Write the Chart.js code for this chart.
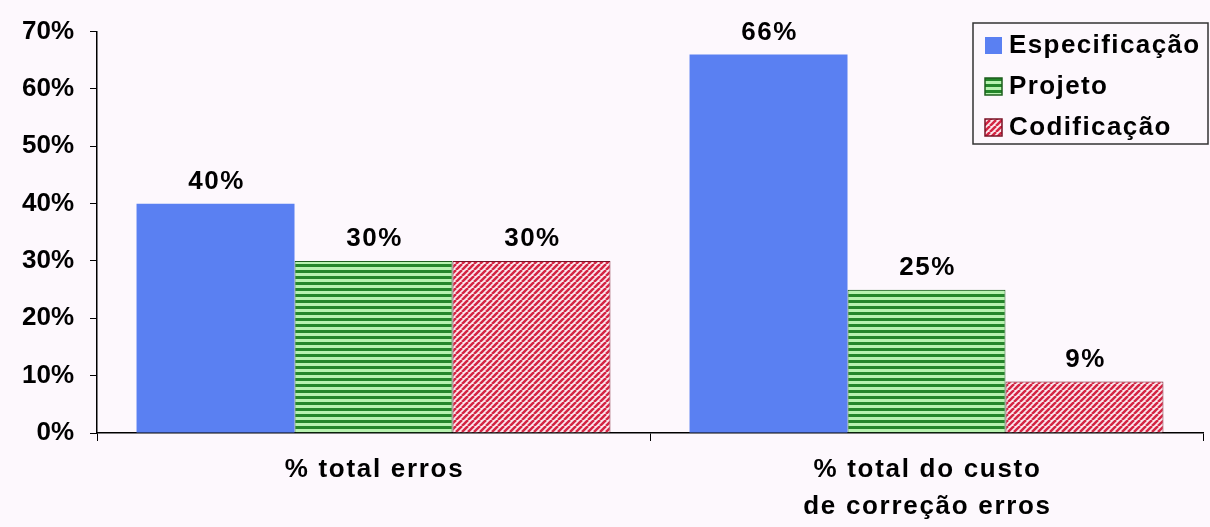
<!DOCTYPE html>
<html>
<head>
<meta charset="utf-8">
<script src="https://cdn.jsdelivr.net/npm/chart.js@4/dist/chart.umd.min.js"></script>
<style>
  html, body { margin: 0; padding: 0; background: #fdf8fd; }
  #wrap { width: 1210px; height: 527px; }
</style>
</head>
<body>
<div id="wrap"><canvas id="grafico"></canvas></div>
<script>
const categorias = [['% total erros'], ['% total do custo', 'de correção erros']];
const series = ['Especificação', 'Projeto', 'Codificação'];
const especificacao = [40, 66];
const projeto = [30, 25];
const codificacao = [30, 9];
const yTicks = ['0%', '10%', '20%', '30%', '40%', '50%', '60%', '70%'];

const fonte = 'bold 26px "Liberation Sans", Arial, sans-serif';

function listrasVerdes() {
  const c = document.createElement('canvas');
  c.width = 6; c.height = 6;
  const g = c.getContext('2d');
  g.fillStyle = '#b8f2b0';
  g.fillRect(0, 0, 6, 6);
  g.fillStyle = '#24862a';
  g.fillRect(0, 0, 6, 3);
  return g.createPattern(c, 'repeat');
}

function listrasVermelhas() {
  const n = 6;
  const c = document.createElement('canvas');
  c.width = n; c.height = n;
  const g = c.getContext('2d');
  g.fillStyle = '#fbe9ee';
  g.fillRect(0, 0, n, n);
  g.strokeStyle = '#d42443';
  g.lineWidth = 2.5;
  for (let k = -1; k <= 1; k++) {
    g.beginPath();
    g.moveTo(k * n, n);
    g.lineTo(k * n + n, 0);
    g.stroke();
  }
  return g.createPattern(c, 'repeat');
}

const fundo = {
  id: 'fundo',
  beforeDraw(chart) {
    const ctx = chart.ctx;
    ctx.save();
    ctx.fillStyle = '#fdf8fd';
    ctx.fillRect(0, 0, chart.width, chart.height);
    ctx.restore();
  }
};

// rotulos das categorias, com espacamento entre letras
const eixoX = {
  id: 'eixoX',
  afterDraw(chart) {
    const ctx = chart.ctx;
    const x = chart.scales.x;
    ctx.save();
    ctx.font = fonte;
    ctx.letterSpacing = '1.7px';
    ctx.fillStyle = '#000';
    ctx.textAlign = 'center';
    ctx.textBaseline = 'middle';
    chart.data.labels.forEach((linhas, i) => {
      const cx = x.getPixelForValue(i) + 1;
      linhas.forEach((t, k) => {
        ctx.fillText(t, cx, x.top + 37 + k * 37);
      });
    });
    ctx.restore();
  }
};

const rotulos = {
  id: 'rotulos',
  afterDatasetsDraw(chart) {
    const ctx = chart.ctx;
    ctx.save();
    ctx.font = fonte;
    ctx.letterSpacing = '1.5px';
    ctx.fillStyle = '#000';
    ctx.textAlign = 'center';
    ctx.textBaseline = 'middle';
    chart.data.datasets.forEach((ds, i) => {
      chart.getDatasetMeta(i).data.forEach((bar, j) => {
        ctx.fillText(ds.data[j] + '%', bar.x + 1, bar.y - 22);
      });
    });
    ctx.restore();
  }
};

const legenda = {
  id: 'legenda',
  afterDraw(chart) {
    const ctx = chart.ctx;
    ctx.save();
    ctx.fillStyle = '#fdf8fd';
    ctx.fillRect(973, 23, 235, 121);
    ctx.strokeStyle = '#333';
    ctx.lineWidth = 1.5;
    ctx.strokeRect(973, 23, 235, 121);
    ctx.font = fonte;
    ctx.letterSpacing = '1.4px';
    ctx.textBaseline = 'middle';
    chart.data.datasets.forEach((ds, i) => {
      const y = 45 + i * 41;
      ctx.fillStyle = ds.backgroundColor;
      ctx.fillRect(985, y - 8, 17, 17);
      if (ds.borderWidth) {
        ctx.strokeStyle = ds.borderColor;
        ctx.lineWidth = 1.5;
        ctx.strokeRect(985, y - 8, 17, 17);
      }
      ctx.fillStyle = '#000';
      ctx.fillText(ds.label, 1009, y + 1);
    });
    ctx.restore();
  }
};

new Chart(document.getElementById('grafico').getContext('2d'), {
  type: 'bar',
  data: {
    labels: categorias,
    datasets: [
      { label: series[0], data: especificacao, backgroundColor: '#5a80f2', borderWidth: 0 },
      { label: series[1], data: projeto, backgroundColor: listrasVerdes(), borderColor: '#1d5e1d', borderWidth: 1 },
      { label: series[2], data: codificacao, backgroundColor: listrasVermelhas(), borderColor: '#7a1025', borderWidth: 1 }
    ]
  },
  options: {
    responsive: true,
    maintainAspectRatio: false,
    animation: false,
    layout: { padding: { top: 22, right: 7, left: 0, bottom: 0 } },
    datasets: { bar: { categoryPercentage: 0.857, barPercentage: 1 } },
    plugins: { legend: { display: false }, tooltip: { enabled: false } },
    scales: {
      x: {
        afterFit(s) { s.height = 94; },
        grid: { offset: true, drawOnChartArea: false, drawTicks: true, tickLength: 8, color: '#000', tickColor: '#000' },
        border: { display: true, color: '#000', width: 1.5 },
        ticks: { display: false }
      },
      y: {
        min: 0,
        max: 70,
        afterFit(s) { s.width = 97; },
        grid: { drawOnChartArea: false, drawTicks: true, tickLength: 7, color: '#000', tickColor: '#000' },
        border: { display: true, color: '#000', width: 1.5 },
        ticks: {
          stepSize: 10,
          color: '#000',
          padding: 16,
          font: { family: '"Liberation Sans", Arial, sans-serif', size: 26, weight: 'bold' },
          callback: (v, i) => yTicks[i]
        }
      }
    }
  },
  plugins: [fundo, rotulos, eixoX, legenda]
});
</script>
</body>
</html>
